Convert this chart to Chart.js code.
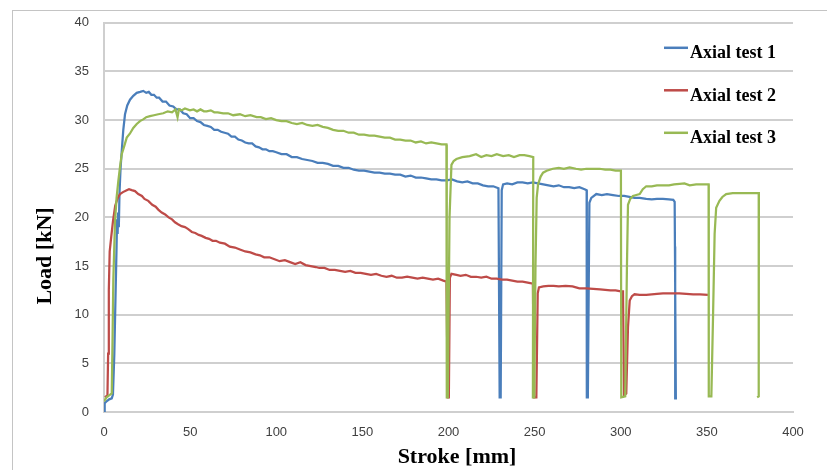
<!DOCTYPE html>
<html>
<head>
<meta charset="utf-8">
<script src="https://cdn.jsdelivr.net/npm/chart.js@4.4.0/dist/chart.umd.min.js"></script>
<style>
  body { margin: 0; background: #fff; }
  #wrap { width: 827px; height: 470px; position: relative; }
</style>
</head>
<body>
<div id="wrap"><canvas id="myChart"></canvas></div>
<script>
const seriesNames = ['Axial test 1', 'Axial test 2', 'Axial test 3']
const seriesColors = ['#4A7EBB', '#BE4B48', '#98B954']
const xTitle = 'Stroke [mm]'
const yTitle = 'Load [kN]'

// Axial test 1
const stroke1 = [0, 0.4, 1.5, 3, 4.5, 5.2, 6, 6.7, 7.3, 7.6, 7.9, 8.2, 8.6, 9, 9.6, 10.5, 11.2, 12.2, 13.5, 15.1, 17, 19, 21, 22.8, 24.5, 26, 27.5, 29, 30.6, 32, 34, 36, 38, 40.2, 42, 44, 46, 48, 50, 52, 54, 56, 58, 60, 62, 64, 66, 68, 70, 72, 74, 76, 78, 80, 82, 84, 86, 88, 90, 92, 94, 96, 98, 100, 103, 106, 109, 112, 115, 118, 121, 124, 127, 130, 133, 136, 139, 142, 145, 148, 151, 154, 157, 160, 163, 166, 169, 172, 175, 178, 181, 184, 187, 190, 193, 196, 199, 202, 205, 208, 211, 214, 217, 220, 223, 226, 229, 229.7, 230.3, 230.9, 231.7, 234, 237, 240, 243, 246, 249, 252, 255, 258, 261, 264, 267, 270, 273, 276, 279, 280.2, 280.3, 280.9, 281.8, 282.9, 285.8, 289, 292, 295.5, 299, 302, 305, 308, 311, 314.8, 318, 321, 324.5, 328, 330.5, 331.3, 332, 331.6]
const load1 = [0, 0.9, 1.1, 1.3, 1.4, 1.8, 6, 12, 17, 19.8, 18.3, 20.5, 19, 22.5, 25, 27.3, 29, 30.6, 31.5, 32.1, 32.5, 32.8, 32.9, 33, 32.8, 32.9, 32.6, 32.6, 32.3, 32.3, 31.9, 31.9, 31.5, 31.4, 31.1, 31.1, 30.7, 30.6, 30.2, 30.2, 29.9, 29.8, 29.5, 29.4, 29.3, 29, 29, 28.8, 28.7, 28.6, 28.3, 28.3, 28, 27.9, 27.7, 27.6, 27.6, 27.3, 27.2, 27, 27, 26.8, 26.8, 26.7, 26.5, 26.5, 26.2, 26.2, 26, 25.9, 25.8, 25.6, 25.6, 25.5, 25.3, 25.3, 25.1, 25.1, 24.9, 24.8, 24.8, 24.7, 24.6, 24.6, 24.5, 24.5, 24.4, 24.4, 24.2, 24.3, 24.1, 24.1, 24, 23.9, 23.9, 23.8, 23.8, 23.9, 23.7, 23.6, 23.7, 23.5, 23.5, 23.3, 23.2, 23.2, 23, 1.5, 1.5, 22.8, 23.4, 23.5, 23.4, 23.6, 23.6, 23.5, 23.6, 23.5, 23.4, 23.3, 23.2, 23.3, 23.1, 23.1, 23, 23.1, 22.9, 22.8, 1.5, 1.5, 21.5, 22, 22.4, 22.3, 22.4, 22.3, 22.2, 22.2, 22.1, 22, 22, 21.9, 21.85, 21.9, 21.9, 21.85, 21.8, 21.6, 1.4, 17]

// Axial test 2
const stroke2 = [0.6, 1.2, 2, 2.4, 2.8, 3.3, 4.2, 5.2, 6.5, 8, 9.3, 11, 13.2, 14.5, 16.1, 18, 19.9, 22, 23.5, 25.7, 28, 30, 31.5, 33.5, 35.5, 37.5, 39.5, 41.2, 43, 45, 47, 48.9, 51, 53, 55, 56.7, 59, 61, 63, 65, 67.3, 70.2, 73, 76, 78.9, 82, 85, 88, 90.5, 93, 96, 99, 102, 105, 108, 111, 114, 117, 120, 123, 125, 128, 131, 134, 137, 140, 143, 146, 149, 152, 155, 158, 161, 164, 167, 170, 173, 176, 179, 182, 185, 188, 191, 194, 197, 198.8, 199.6, 200.2, 200.8, 201.7, 204.6, 207, 210, 213, 216, 219, 222, 225, 228, 231, 234, 237, 240, 243, 246, 249, 249.6, 251, 251.8, 252.5, 255, 258, 261, 264, 268, 272, 274, 276, 280, 284, 288, 291, 294, 297, 300, 301.3, 301.9, 303.2, 304.2, 305.2, 306.5, 308, 311, 314.8, 318, 321, 324.5, 328, 331, 334, 338, 342, 346, 350.6]
const load2 = [1.5, 1.6, 1.7, 6, 12.5, 16.5, 18, 19.6, 21.2, 22, 22.4, 22.6, 22.8, 22.9, 22.8, 22.7, 22.4, 22.2, 21.9, 21.7, 21.3, 21.1, 20.8, 20.5, 20.3, 20, 19.8, 19.5, 19.3, 19.1, 19, 18.8, 18.5, 18.4, 18.2, 18.1, 17.9, 17.8, 17.6, 17.6, 17.4, 17.3, 17, 16.9, 16.7, 16.5, 16.4, 16.2, 16.1, 15.9, 15.9, 15.7, 15.5, 15.6, 15.4, 15.2, 15.4, 15.1, 15, 14.9, 14.8, 14.8, 14.6, 14.6, 14.5, 14.4, 14.5, 14.3, 14.3, 14.2, 14.1, 14.2, 14, 13.9, 14, 13.8, 13.8, 13.9, 13.8, 13.7, 13.8, 13.7, 13.6, 13.7, 13.5, 13.4, 1.5, 1.5, 13.8, 14.2, 14.1, 14, 14.1, 13.9, 13.9, 13.8, 13.9, 13.7, 13.7, 13.6, 13.6, 13.5, 13.4, 13.4, 13.3, 13.2, 1.5, 1.5, 12.2, 12.8, 12.9, 12.95, 12.95, 12.9, 12.95, 12.9, 12.8, 12.7, 12.7, 12.65, 12.6, 12.55, 12.5, 12.5, 12.4, 12.4, 1.7, 1.9, 8.7, 11.45, 11.9, 12.1, 12.05, 12.05, 12.1, 12.15, 12.2, 12.2, 12.2, 12.2, 12.15, 12.1, 12.1, 12.05]

// Axial test 3
const stroke3 = [0, 1.5, 3, 4.5, 5, 5.4, 6.4, 7.3, 8.3, 9.3, 10.3, 11.7, 13.2, 15, 17, 19, 20.9, 23, 24.5, 26.7, 29, 31.5, 34.4, 37, 39.5, 41.5, 42.7, 43.5, 45, 47, 49.9, 52, 54, 56, 58, 59.6, 62, 64, 66, 69.2, 72, 75, 78.9, 82, 85, 88.6, 91, 94, 97, 100, 103, 106, 109, 112, 115, 118, 121, 124, 127, 130, 133, 136, 139, 142, 145, 148, 151, 154, 157, 160, 163, 166, 169, 172, 175, 178, 181, 184, 187, 190, 193, 196, 198.8, 199, 199.6, 200.6, 201.7, 203, 204.6, 208, 212.3, 216, 219, 222, 225, 228, 231.7, 235, 238, 241.3, 244, 247, 249.2, 249, 249.8, 250.5, 251.2, 252, 253.5, 254.9, 257, 260.6, 264, 267, 270.3, 274, 277, 280, 284, 287.7, 291, 294, 297, 300.1, 300.3, 302.6, 303.6, 304.2, 305.5, 307.1, 309, 311, 312.8, 314.8, 318, 321, 324.5, 328, 331, 334.2, 337, 340, 343.8, 347, 351, 351.1, 352.6, 353.6, 354.5, 355.4, 357.3, 359, 361.2, 365, 369, 373, 377, 380.2, 380.1, 379.2]
const load3 = [1.1, 1.5, 1.7, 1.9, 8, 13.5, 19.6, 22, 23.7, 25.2, 26.5, 27.3, 28.2, 28.6, 29.2, 29.6, 29.9, 30.1, 30.3, 30.4, 30.5, 30.6, 30.7, 30.9, 30.8, 31.1, 30.3, 31.1, 31, 31.2, 31, 31.1, 30.9, 31.1, 30.9, 30.9, 31, 30.8, 30.8, 30.7, 30.7, 30.5, 30.6, 30.4, 30.5, 30.3, 30.3, 30.1, 30.2, 30, 29.9, 29.9, 29.7, 29.6, 29.7, 29.5, 29.4, 29.5, 29.3, 29.2, 29, 28.9, 28.9, 28.7, 28.7, 28.5, 28.5, 28.4, 28.4, 28.3, 28.2, 28.2, 28, 28, 27.9, 27.9, 27.7, 27.8, 27.6, 27.7, 27.6, 27.5, 27.5, 1.5, 1.5, 20, 25.4, 25.8, 26, 26.2, 26.3, 26.5, 26.2, 26.4, 26.3, 26.5, 26.3, 26.4, 26.2, 26.4, 26.4, 26.3, 26.2, 1.5, 1.5, 15, 22, 23.4, 24.2, 24.6, 24.8, 25, 25.1, 25, 25.15, 25, 24.9, 25, 25, 25, 24.9, 24.9, 24.8, 24.8, 1.5, 1.6, 15, 21.3, 21.9, 22.2, 22.3, 22.4, 22.9, 23.2, 23.2, 23.3, 23.3, 23.3, 23.4, 23.45, 23.5, 23.3, 23.4, 23.4, 23.4, 1.6, 1.6, 10, 18.3, 21, 21.7, 22.1, 22.4, 22.5, 22.5, 22.5, 22.5, 22.5, 1.6, 1.5]

const yTicks = [0, 5, 10, 15, 20, 25, 30, 35, 40]
const xTicks = [0, 50, 100, 150, 200, 250, 300, 350, 400]

const strokes = [stroke1, stroke2, stroke3]
const loads = [load1, load2, load3]

const gridColor = '#cfcfcf'
const tickFont = { family: 'Liberation Sans', size: 13 }
const titleFont = 'bold 22px "Liberation Serif"'

// frame, axis titles and the legend that sits inside the plot
const decorations = {
    id: 'decorations',
    beforeDraw(chart) {
        const c = chart.ctx
        c.save()
        c.strokeStyle = '#c4c4c4'
        c.lineWidth = 1
        c.strokeRect(12.5, 10.5, 900, 600)
        c.restore()
    },
    afterDraw(chart) {
        const c = chart.ctx
        const area = chart.chartArea
        c.save()
        c.fillStyle = '#000'
        c.font = titleFont
        c.textAlign = 'center'
        c.textBaseline = 'middle'
        c.fillText(xTitle, 457, 457)
        c.translate(45, 256)
        c.rotate(-Math.PI / 2)
        c.fillText(yTitle, 0, 0)
        c.restore()

        c.save()
        c.font = 'bold 18px "Liberation Serif"'
        c.textBaseline = 'alphabetic'
        seriesNames.forEach((name, i) => {
            const y = area.top + 25 + i * 42.5
            c.strokeStyle = seriesColors[i]
            c.lineWidth = 2.5
            c.beginPath()
            c.moveTo(664, y)
            c.lineTo(688, y)
            c.stroke()
            c.fillStyle = '#000'
            c.fillText(name, 690, y + 10.5)
        })
        c.restore()
    }
}

const ctx = document.getElementById('myChart')

const myChart = new Chart(ctx, {
    type: 'scatter',
    data: {
        datasets: seriesNames.map((name, i) => ({
            label: name,
            data: strokes[i].map((s, k) => ({ x: s, y: loads[i][k] })),
            showLine: true,
            borderColor: seriesColors[i],
            backgroundColor: seriesColors[i],
            borderWidth: 2.25,
            pointRadius: 0,
            tension: 0,
            order: 3 - i
        }))
    },
    options: {
        responsive: true,
        maintainAspectRatio: false,
        animation: false,
        layout: { padding: { top: 21, right: 34, left: 0, bottom: 0 } },
        plugins: {
            legend: { display: false },
            tooltip: { enabled: false }
        },
        scales: {
            x: {
                type: 'linear',
                min: 0,
                max: 400,
                afterBuildTicks: (scale) => { scale.ticks = xTicks.map(v => ({ value: v })) },
                afterFit: (scale) => { scale.height = 58 },
                grid: { display: false, drawTicks: false },
                border: { display: true, color: gridColor, width: 2 },
                ticks: { font: tickFont, color: '#404040', padding: 13, maxRotation: 0 }
            },
            y: {
                min: 0,
                max: 40,
                afterBuildTicks: (scale) => { scale.ticks = yTicks.map(v => ({ value: v })) },
                afterFit: (scale) => { scale.width = 104 },
                grid: { color: gridColor, lineWidth: 2, drawTicks: false },
                border: { display: true, color: gridColor, width: 2 },
                ticks: { font: tickFont, color: '#404040', padding: 15 }
            }
        }
    },
    plugins: [decorations]
})
</script>
</body>
</html>
